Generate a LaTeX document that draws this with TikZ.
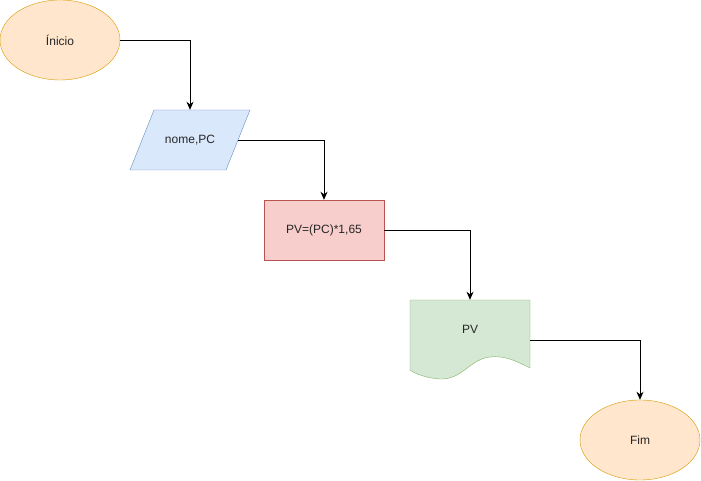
\documentclass[tikz,border=0pt]{standalone}
\usepackage{fontspec}
\setmainfont{Liberation Sans}
\usetikzlibrary{arrows.meta,shapes.geometric}
\definecolor{orfill}{HTML}{FFE6CC}\definecolor{ordraw}{HTML}{D79B00}
\definecolor{blfill}{HTML}{DAE8FC}\definecolor{bldraw}{HTML}{6C8EBF}
\definecolor{rdfill}{HTML}{F8CECC}\definecolor{rddraw}{HTML}{B85450}
\definecolor{grfill}{HTML}{D5E8D4}\definecolor{grdraw}{HTML}{82B366}
\definecolor{txt}{HTML}{333333}
\begin{document}
\begin{tikzpicture}[x=1pt,y=-1pt,
  every node/.style={font=\fontsize{12}{14}\selectfont, text=black!85},
  term/.style={ellipse, draw=ordraw, fill=orfill, minimum width=120pt, minimum height=80pt, inner sep=0pt},
  procbox/.style={rectangle, draw=rddraw, fill=rdfill, minimum width=120pt, minimum height=60pt, inner sep=0pt},
  conn/.style={draw=black, line width=0.9pt, -{Stealth[length=8pt,width=7pt,inset=2.5pt]}}]
\useasboundingbox (0,0) rectangle (701,481);
% Inicio
\node[term] (ini) at (60,40) {Ínicio};
% parallelogram
\filldraw[draw=bldraw, fill=blfill] (154,110) -- (250,110) -- (226,170) -- (130,170) -- cycle;
\node[minimum width=96pt, minimum height=60pt, inner sep=0pt] (inp) at (190,140) {nome,PC};
% process
\node[procbox] (proc) at (324,230) {PV=(PC)*1,65};
% document
\filldraw[draw=grdraw, fill=grfill] (410,300) -- (530,300) -- (530,368)
  .. controls (518,362) and (505,355) .. (490,357)
  .. controls (470,359) and (462,380) .. (440,379)
  .. controls (426,378) and (416,374) .. (410,370) -- cycle;
\node[minimum width=120pt, minimum height=80pt, inner sep=0pt] (doc) at (470,340) {};
\node at (470,329) {PV};
% Fim
\node[term] (fim) at (640,440) {Fim};
% connectors
\draw[conn] (ini.east) -| (inp.north);
\draw[conn] (inp.east) -| (proc.north);
\draw[conn] (proc.east) -| (doc.north);
\draw[conn] (doc.east) -| (fim.north);
\end{tikzpicture}
\end{document}
